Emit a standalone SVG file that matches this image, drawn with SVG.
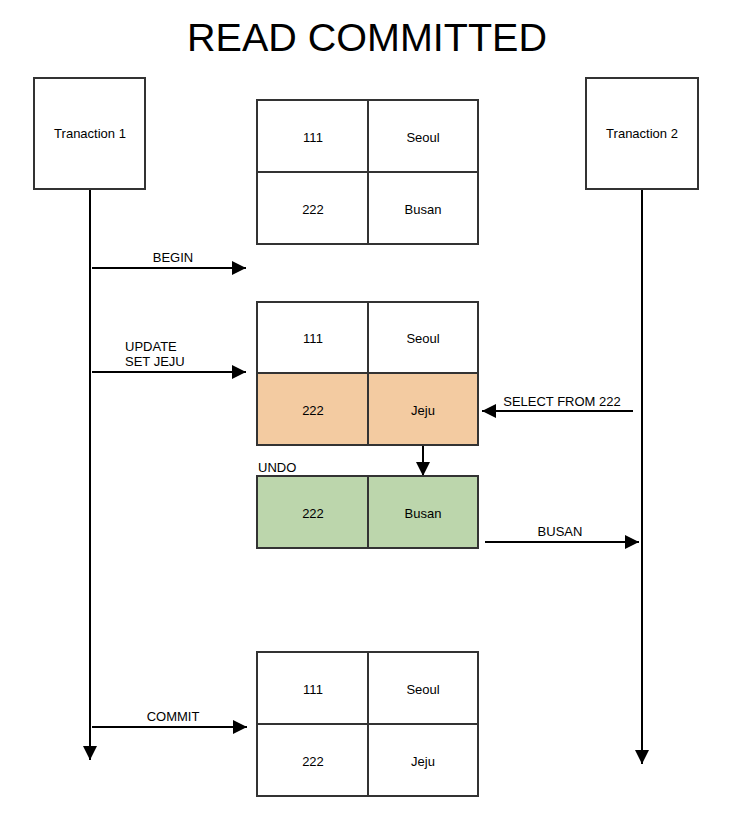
<svg xmlns="http://www.w3.org/2000/svg" width="730" height="813" viewBox="0 0 730 813">
<defs>
<style>
text{font-family:"Liberation Sans",Arial,sans-serif;fill:#000}
.t{font-size:13px}
.c{text-anchor:middle;dominant-baseline:central;font-size:13px}
.box{fill:#fff;stroke:#333;stroke-width:2}
.ln{stroke:#000;stroke-width:2;fill:none}
.dv{stroke:#333;stroke-width:2;fill:none}
</style>
<marker id="ahb" viewBox="0 0 10 10" refX="10" refY="5" markerWidth="14" markerHeight="14" markerUnits="userSpaceOnUse" orient="auto">
<path d="M0,0 L10,5 L0,10 Z" fill="#000"/>
</marker>
</defs>
<rect width="730" height="813" fill="#fff"/>
<text x="367" y="51" text-anchor="middle" font-size="39.5">READ COMMITTED</text>

<g id="connectors">
<line class="ln" x1="90" y1="189" x2="90" y2="760" marker-end="url(#ahb)"/>
<line class="ln" x1="642" y1="189" x2="642" y2="764" marker-end="url(#ahb)"/>
<line class="ln" x1="92" y1="268" x2="246" y2="268" marker-end="url(#ahb)"/>
<line class="ln" x1="92" y1="372" x2="246" y2="372" marker-end="url(#ahb)"/>
<line class="ln" x1="633" y1="411" x2="482" y2="411" marker-end="url(#ahb)"/>
<line class="ln" x1="423" y1="445" x2="423" y2="476" marker-end="url(#ahb)"/>
<line class="ln" x1="485" y1="542" x2="639" y2="542" marker-end="url(#ahb)"/>
<line class="ln" x1="92" y1="727" x2="247" y2="727" marker-end="url(#ahb)"/>
<text class="t" x="173" y="262" text-anchor="middle">BEGIN</text>
<text class="t" x="125" y="351">UPDATE</text>
<text class="t" x="125" y="366">SET JEJU</text>
<text class="t" x="562" y="406" text-anchor="middle">SELECT FROM 222</text>
<text class="t" x="560" y="536" text-anchor="middle">BUSAN</text>
<text class="t" x="173" y="721" text-anchor="middle">COMMIT</text>
</g>

<g id="tx1">
<rect class="box" x="34" y="78" width="111" height="111"/>
<text class="c" x="90" y="133">Tranaction 1</text>
</g>
<g id="tx2">
<rect class="box" x="586" y="78" width="112" height="111"/>
<text class="c" x="642" y="133">Tranaction 2</text>
</g>

<g id="table1">
<rect class="box" x="257" y="100" width="221" height="144"/>
<line class="dv" x1="368" y1="100" x2="368" y2="244"/>
<line class="dv" x1="257" y1="172" x2="478" y2="172"/>
<text class="c" x="313" y="137">111</text>
<text class="c" x="423" y="137">Seoul</text>
<text class="c" x="313" y="209">222</text>
<text class="c" x="423" y="209">Busan</text>
</g>

<g id="table2">
<rect class="box" x="257" y="302" width="221" height="71"/>
<rect class="box" x="257" y="373" width="221" height="72" style="fill:#F3CBA1"/>
<line class="dv" x1="368" y1="302" x2="368" y2="445"/>
<text class="c" x="313" y="338">111</text>
<text class="c" x="423" y="338">Seoul</text>
<text class="c" x="313" y="410">222</text>
<text class="c" x="423" y="410">Jeju</text>
</g>

<g id="undo">
<text class="t" x="258" y="472">UNDO</text>
<rect class="box" x="257" y="476" width="221" height="72" style="fill:#BCD6AC"/>
<line class="dv" x1="368" y1="476" x2="368" y2="548"/>
<text class="c" x="313" y="513">222</text>
<text class="c" x="423" y="513">Busan</text>
</g>

<g id="table3">
<rect class="box" x="257" y="652" width="221" height="144"/>
<line class="dv" x1="368" y1="652" x2="368" y2="796"/>
<line class="dv" x1="257" y1="724" x2="478" y2="724"/>
<text class="c" x="313" y="689">111</text>
<text class="c" x="423" y="689">Seoul</text>
<text class="c" x="313" y="761">222</text>
<text class="c" x="423" y="761">Jeju</text>
</g>
</svg>
